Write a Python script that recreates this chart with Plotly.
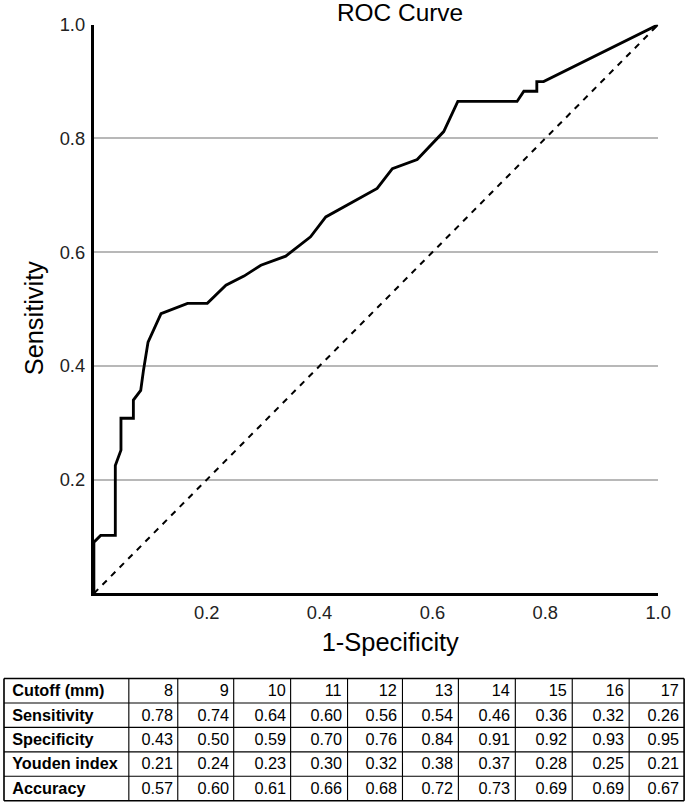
import plotly.graph_objects as go

# ROC curve points (1-specificity, sensitivity)
fpr = [0.0, 0.0, 0.012, 0.038, 0.038, 0.048, 0.048, 0.070, 0.070, 0.083, 0.088, 0.096,
       0.119, 0.166, 0.201, 0.234, 0.266, 0.296, 0.340, 0.384, 0.411, 0.443, 0.502,
       0.529, 0.573, 0.620, 0.645, 0.750, 0.762, 0.785, 0.785, 0.797, 1.0]
tpr = [0.0, 0.090, 0.102, 0.102, 0.225, 0.252, 0.308, 0.308, 0.340, 0.357, 0.393, 0.442,
       0.492, 0.510, 0.510, 0.542, 0.558, 0.577, 0.593, 0.627, 0.662, 0.680, 0.712,
       0.747, 0.763, 0.812, 0.865, 0.865, 0.883, 0.883, 0.900, 0.900, 1.0]
ref_x = [0.0, 1.0]
ref_y = [0.0, 1.0]

tick_vals = [0.2, 0.4, 0.6, 0.8, 1.0]
tick_text = ["0.2", "0.4", "0.6", "0.8", "1.0"]

# Table data
cutoffs = [8, 9, 10, 11, 12, 13, 14, 15, 16, 17]
sensitivity = [0.78, 0.74, 0.64, 0.60, 0.56, 0.54, 0.46, 0.36, 0.32, 0.26]
specificity = [0.43, 0.50, 0.59, 0.70, 0.76, 0.84, 0.91, 0.92, 0.93, 0.95]
youden = [0.21, 0.24, 0.23, 0.30, 0.32, 0.38, 0.37, 0.28, 0.25, 0.21]
accuracy = [0.57, 0.60, 0.61, 0.66, 0.68, 0.72, 0.73, 0.69, 0.69, 0.67]
row_labels = ["Sensitivity", "Specificity", "Youden index", "Accuracy"]

W, H = 685, 802
FONT = "Liberation Sans, Arial, sans-serif"

def X(x):
    return x / W

def Y(y):
    return 1 - y / H

fig = go.Figure()

fig.add_trace(go.Scatter(x=ref_x, y=ref_y, mode="lines",
                         line=dict(color="black", width=2, dash="6px,6px"),
                         showlegend=False, hoverinfo="skip"))
fig.add_trace(go.Scatter(x=fpr, y=tpr, mode="lines",
                         line=dict(color="black", width=2.8),
                         showlegend=False))

# ---- table built from shapes + annotations ----
col_widths = [125, 49, 56, 57, 57, 55, 56, 57, 57, 57, 55]
tbl_left, tbl_top, row_h = 3, 678, 24.4
col_edges = [tbl_left]
for w in col_widths:
    col_edges.append(col_edges[-1] + w)
n_rows = 1 + len(row_labels)
row_edges = [tbl_top + i * row_h for i in range(n_rows + 1)]

table_rows = [["<b>Cutoff (mm)</b>"] + [str(c) for c in cutoffs]]
for lab, vals in zip(row_labels, [sensitivity, specificity, youden, accuracy]):
    table_rows.append(["<b>%s</b>" % lab] + ["%.2f" % v for v in vals])

shapes = []
for i, ye in enumerate(row_edges):
    outer = i in (0, len(row_edges) - 1)
    shapes.append(dict(type="line", xref="paper", yref="paper",
                       x0=X(col_edges[0]), x1=X(col_edges[-1]), y0=Y(ye), y1=Y(ye),
                       line=dict(color="black", width=1.6 if outer else 1.1)))
for j, xe in enumerate(col_edges):
    outer = j in (0, len(col_edges) - 1)
    shapes.append(dict(type="line", xref="paper", yref="paper",
                       x0=X(xe), x1=X(xe), y0=Y(row_edges[0]), y1=Y(row_edges[-1]),
                       line=dict(color="black", width=1.6 if outer else 1.1)))

annotations = []
for r, row in enumerate(table_rows):
    yc = (row_edges[r] + row_edges[r + 1]) / 2
    for c, txt in enumerate(row):
        if c == 0:
            xa, anchor = col_edges[0] + 6, "left"
        else:
            xa, anchor = col_edges[c + 1] - 3, "right"
        annotations.append(dict(text=txt, x=X(xa), y=Y(yc), xref="paper", yref="paper",
                                xanchor=anchor, yanchor="middle", showarrow=False,
                                font=dict(size=16, family=FONT, color="black")))

annotations += [
    dict(text="ROC Curve", x=X(400), y=Y(13), xref="paper", yref="paper",
         xanchor="center", yanchor="middle", showarrow=False,
         font=dict(size=24, family=FONT, color="black")),
    dict(text="1-Specificity", x=X(390), y=Y(641), xref="paper", yref="paper",
         xanchor="center", yanchor="middle", showarrow=False,
         font=dict(size=25, family=FONT, color="black")),
    dict(text="Sensitivity", x=X(33), y=Y(318), xref="paper", yref="paper",
         xanchor="center", yanchor="middle", showarrow=False, textangle=-90,
         font=dict(size=25, family=FONT, color="black")),
]

fig.update_layout(
    width=W, height=H,
    margin=dict(l=0, r=0, t=0, b=0),
    paper_bgcolor="white", plot_bgcolor="white",
    font=dict(family=FONT, color="black"),
    xaxis=dict(domain=[X(93), X(658)], range=[0, 1], showgrid=False,
               zeroline=False, showline=True, linecolor="black", linewidth=3,
               tickvals=tick_vals, ticktext=tick_text, ticks="",
               tickfont=dict(size=18, color="#222"), ticklabelstandoff=1),
    yaxis=dict(domain=[Y(593), Y(25)], range=[0, 1], showgrid=True,
               gridcolor="#b8b8b8", gridwidth=1.5,
               zeroline=False, showline=True, linecolor="black", linewidth=3,
               tickvals=tick_vals, ticktext=tick_text, ticks="",
               tickfont=dict(size=18, color="#222"), ticklabelstandoff=2),
    shapes=shapes,
    annotations=annotations,
)

# pin the figure to the page origin and compensate the capture's slight shrink/offset
pin_js = (
    "document.documentElement.style.margin='0';"
    "document.body.style.margin='0';"
    "document.body.style.overflow='hidden';"
    "var gd=document.getElementById('{plot_id}');"
    "gd.style.position='absolute';gd.style.left='0px';gd.style.top='0px';"
    "gd.style.transformOrigin='0 0';"
    "gd.style.transform='translate(1px,-10.5px) scale(1.018,1.014)';"
)

fig.write_html("out.html", post_script=pin_js, config={"displayModeBar": False})
